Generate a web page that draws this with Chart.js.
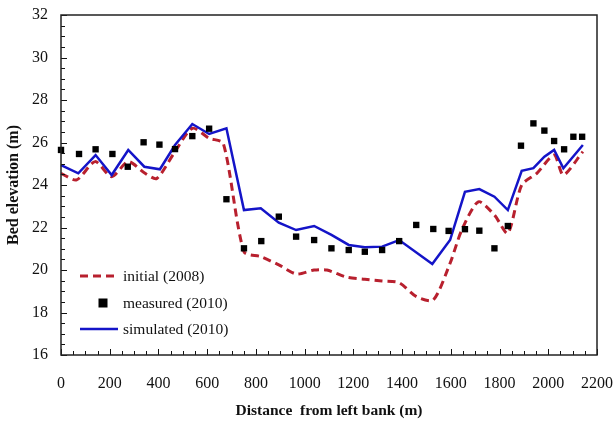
<!DOCTYPE html>
<html>
<head>
<meta charset="utf-8">
<style>
  html, body { margin: 0; padding: 0; background: #fff; }
  #wrap { width: 614px; height: 424px; position: relative; }
</style>
<script src="https://cdn.jsdelivr.net/npm/chart.js@4/dist/chart.umd.min.js"></script>
</head>
<body>
<div id="wrap"><canvas id="c" width="614" height="424"></canvas></div>
<script>
// Cross-section bed elevation along the transect (m)
const initialX = [0, 64, 140, 208, 276, 345, 393, 468, 539, 608, 666, 751, 820, 894, 967, 1039, 1091, 1173, 1247, 1318, 1388, 1460, 1528, 1597, 1645, 1713, 1779, 1834, 1891, 1953, 2024, 2062, 2142];
const initialY = [24.55, 24.24, 25.1, 24.39, 25.1, 24.55, 24.31, 25.57, 26.67, 26.2, 25.96, 20.86, 20.63, 20.24, 19.81, 20.0, 20.0, 19.66, 19.56, 19.48, 19.4, 18.74, 18.59, 20.32, 21.88, 23.21, 22.59, 21.73, 24.0, 24.55, 25.41, 24.47, 25.57];

const measuredX = [0, 74, 142, 211, 274, 339, 404, 468, 539, 608, 679, 751, 822, 894, 965, 1039, 1110, 1181, 1247, 1318, 1388, 1458, 1528, 1591, 1658, 1717, 1779, 1834, 1888, 1939, 1984, 2024, 2065, 2103, 2139];
const measuredY = [25.65, 25.46, 25.68, 25.46, 24.86, 26.01, 25.9, 25.69, 26.3, 26.65, 23.33, 21.02, 21.36, 22.51, 21.57, 21.41, 21.02, 20.94, 20.86, 20.94, 21.36, 22.12, 21.93, 21.84, 21.92, 21.85, 21.02, 22.07, 25.85, 26.9, 26.56, 26.07, 25.68, 26.27, 26.27];

const simulatedX = [0, 71, 142, 208, 276, 342, 406, 468, 539, 608, 679, 751, 820, 894, 965, 1039, 1110, 1181, 1247, 1318, 1388, 1524, 1597, 1658, 1717, 1779, 1834, 1891, 1939, 1984, 2024, 2062, 2142];
const simulatedY = [24.94, 24.55, 25.41, 24.47, 25.65, 24.86, 24.74, 25.88, 26.87, 26.4, 26.67, 22.82, 22.9, 22.23, 21.88, 22.07, 21.65, 21.18, 21.07, 21.1, 21.41, 20.28, 21.41, 23.68, 23.81, 23.45, 22.82, 24.67, 24.79, 25.33, 25.65, 24.79, 25.88];

const xTicks = [0, 200, 400, 600, 800, 1000, 1200, 1400, 1600, 1800, 2000, 2200];
const yTicks = [16, 18, 20, 22, 24, 26, 28, 30, 32];

const pts = (xs, ys) => xs.map((x, i) => ({ x: x, y: ys[i] }));

const SERIF = '"Liberation Serif", "Times New Roman", serif';

// Frame with inward major/minor tick marks on the left and bottom axes
const framePlugin = {
  id: 'frame',
  afterDatasetsDraw(chart) {
    const { ctx, chartArea: a, scales } = chart;
    const xs = scales.x, ys = scales.y;
    ctx.save();
    ctx.strokeStyle = '#111';
    ctx.lineWidth = 1;
    for (let v = 0; v <= 2200; v += 50) {
      const px = Math.round(xs.getPixelForValue(v)) + 0.5;
      const len = v % 200 === 0 ? 6 : 4;
      ctx.beginPath(); ctx.moveTo(px, a.bottom); ctx.lineTo(px, a.bottom - len); ctx.stroke();
    }
    for (let v = 16; v <= 32; v += 0.5) {
      const py = Math.round(ys.getPixelForValue(v)) + 0.5;
      const len = v % 2 === 0 ? 6 : 4;
      ctx.beginPath(); ctx.moveTo(a.left, py); ctx.lineTo(a.left + len, py); ctx.stroke();
    }
    ctx.lineWidth = 1.5;
    ctx.strokeStyle = '#222';
    ctx.strokeRect(a.left, a.top, a.right - a.left, a.bottom - a.top);
    ctx.restore();
  }
};

// Legend drawn inside the plot area, lower left
const insideLegend = {
  id: 'insideLegend',
  afterDraw(chart) {
    const { ctx } = chart;
    const ds = chart.data.datasets;
    const x0 = 80, x1 = 118, tx = 123;
    const rows = [276, 303, 329];
    ctx.save();
    ctx.font = '15.5px ' + SERIF;
    ctx.textBaseline = 'middle';
    ctx.fillStyle = '#111';
    ds.forEach((d, i) => {
      const y = rows[i];
      if (d.showLine) {
        ctx.save();
        ctx.strokeStyle = d.borderColor;
        ctx.lineWidth = d.borderWidth;
        ctx.setLineDash(d.borderDash || []);
        ctx.beginPath(); ctx.moveTo(x0, y); ctx.lineTo(x1, y); ctx.stroke();
        ctx.restore();
      } else {
        const s = d.pointRadius * 2;
        ctx.fillStyle = d.pointBackgroundColor;
        ctx.fillRect((x0 + x1) / 2 - s / 2 + 4, y - s / 2, s, s);
        ctx.fillStyle = '#111';
      }
      ctx.fillText(d.label, tx, y + 1);
    });
    ctx.restore();
  }
};

new Chart(document.getElementById('c'), {
  type: 'scatter',
  data: {
    datasets: [
      {
        label: 'initial (2008)',
        data: pts(initialX, initialY),
        showLine: true,
        borderColor: '#b8202e',
        borderWidth: 3,
        borderDash: [8, 5],
        pointRadius: 0,
        tension: 0.25,
        clip: false,
        order: 3
      },
      {
        label: 'measured (2010)',
        data: pts(measuredX, measuredY),
        showLine: false,
        pointStyle: 'rect',
        pointRadius: 4.5,
        pointBackgroundColor: '#000',
        pointBorderColor: '#000',
        pointBorderWidth: 0,
        clip: false,
        order: 1
      },
      {
        label: 'simulated (2010)',
        data: pts(simulatedX, simulatedY),
        showLine: true,
        borderColor: '#1414c8',
        borderWidth: 2.5,
        pointRadius: 0,
        tension: 0,
        clip: false,
        order: 2
      }
    ]
  },
  options: {
    responsive: false,
    animation: false,
    devicePixelRatio: 1,
    layout: { padding: { left: 0, right: 17, top: 15, bottom: 0 } },
    plugins: { legend: { display: false }, tooltip: { enabled: false } },
    scales: {
      x: {
        type: 'linear', min: 0, max: 2200,
        afterBuildTicks: s => { s.ticks = xTicks.map(v => ({ value: v })); },
        afterFit: s => { s.height = 69; s.paddingLeft = 0; s.paddingRight = 0; },
        grid: { display: false, drawTicks: false },
        border: { display: false },
        ticks: { padding: 19, color: '#111', font: { family: SERIF, size: 16 }, callback: v => String(v) },
        title: {
          display: true, text: 'Distance  from left bank (m)', color: '#111',
          font: { family: SERIF, size: 15.5, weight: 'bold' }, padding: { top: 0, bottom: 4 }
        }
      },
      y: {
        type: 'linear', min: 16, max: 32,
        afterBuildTicks: s => { s.ticks = yTicks.map(v => ({ value: v })); },
        afterFit: s => { s.width = 61; s.paddingTop = 0; s.paddingBottom = 0; },
        grid: { display: false, drawTicks: false },
        border: { display: false },
        ticks: { padding: 13, color: '#111', font: { family: SERIF, size: 16 }, callback: v => String(v) },
        title: {
          display: true, text: 'Bed elevation (m)', color: '#111',
          font: { family: SERIF, size: 16, weight: 'bold' }, padding: { top: 4, bottom: 0 }
        }
      }
    }
  },
  plugins: [framePlugin, insideLegend]
});
</script>
</body>
</html>
